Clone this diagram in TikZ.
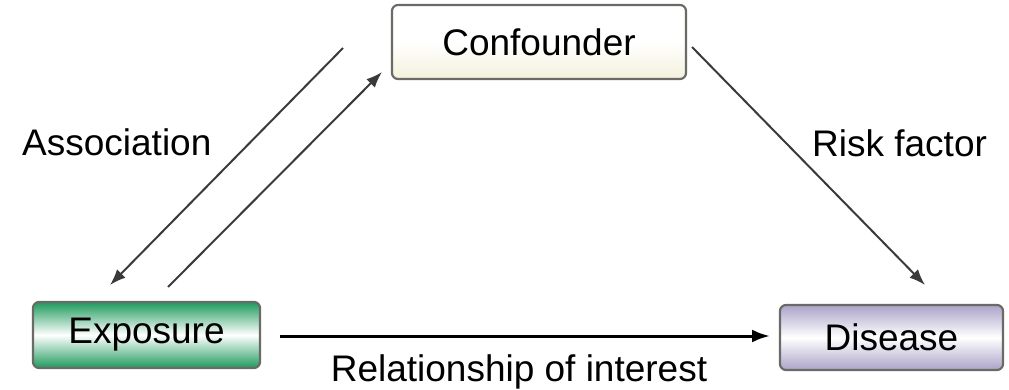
\documentclass[tikz,border=0pt]{standalone}
\usepackage{fontspec}
\setmainfont{Liberation Sans}
\usetikzlibrary{arrows.meta}
\definecolor{bordergray}{HTML}{6A6A66}
\definecolor{creamtop}{HTML}{F4F1DC}
\definecolor{greenedge}{HTML}{1E9A5C}
\definecolor{lavedge}{HTML}{ABA3C8}
\definecolor{linegray}{HTML}{3A3A3A}
\tikzset{
  box/.style={draw=bordergray, line width=2.2pt, rounded corners=6pt, inner sep=0pt, font=\fontsize{37}{40}\selectfont},
  conn/.style={draw=linegray, line width=2pt, -{Latex[length=16pt,width=12pt]}},
  mainconn/.style={draw=black, line width=3pt, -{Latex[length=18pt,width=13pt]}},
  lbl/.style={font=\fontsize{37}{40}\selectfont, inner sep=0pt}
}
\begin{document}
\begin{tikzpicture}[x=1pt,y=-1pt]
\useasboundingbox (0,0) rectangle (1009,390);
% boxes
\node[box, minimum width=294pt, minimum height=74pt, top color=white, bottom color=creamtop, middle color=white] (conf) at (539,42) {Confounder};
\node[box, minimum width=227pt, minimum height=66pt, top color=greenedge, bottom color=greenedge, middle color=white] (expo) at (146.5,335) {Exposure};
\node[box, minimum width=223pt, minimum height=65pt, top color=lavedge, bottom color=lavedge, middle color=white] (dis) at (891.5,337.5) {Disease};
% connector end points
\coordinate (a1) at (343,48);
\coordinate (a2) at (110,285);
\coordinate (b1) at (168,287);
\coordinate (b2) at (382,72);
\coordinate (r1) at (692,47);
\coordinate (r2) at (925,285);
\coordinate (h1) at (280,336);
\coordinate (h2) at (770,336);
% connectors
\draw[conn] (a1) -- (a2);
\draw[conn] (b1) -- (b2);
\draw[conn] (r1) -- (r2);
\draw[mainconn] (h1) -- (h2);
% labels
\node[lbl, anchor=west] (assoc) at (22,142) {Association};
\node[lbl, anchor=west] (risk) at (812,143) {Risk factor};
\node[lbl] (rel) at (519,372) {Relationship of interest};
\end{tikzpicture}
\end{document}
